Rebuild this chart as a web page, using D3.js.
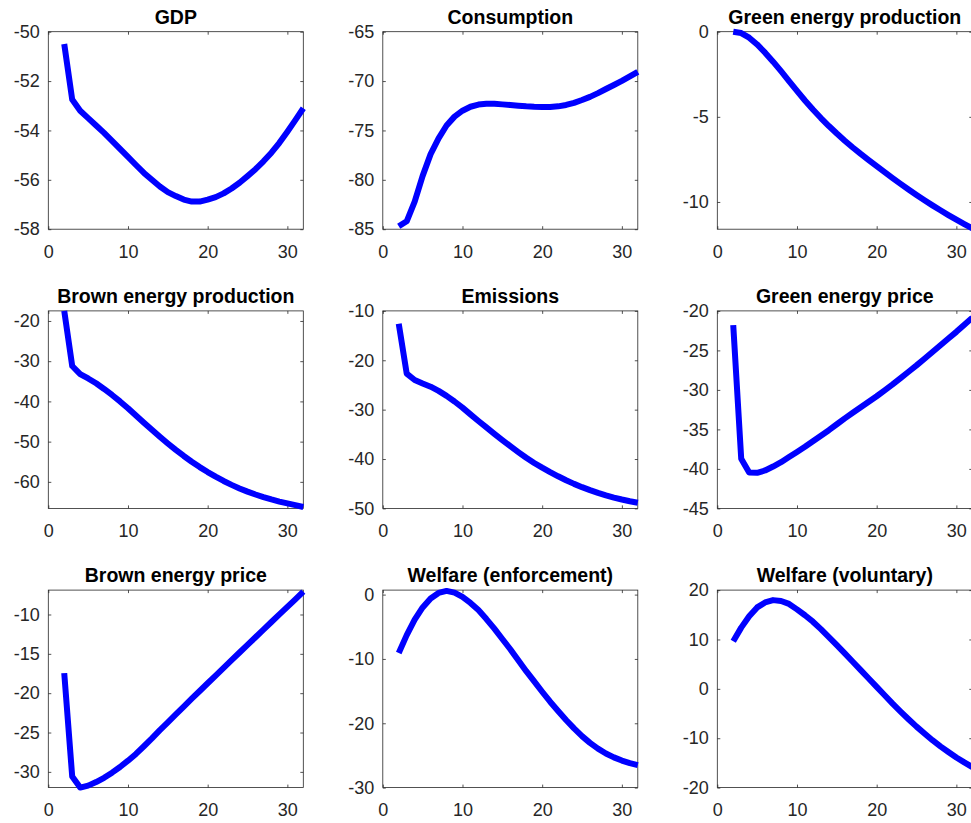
<!DOCTYPE html>
<html>
<head>
<meta charset="utf-8">
<script src="https://cdn.jsdelivr.net/npm/d3@7"></script>
<style>
  body { margin: 0; background: #ffffff; }
  svg { display: block; }
</style>
</head>
<body>
<svg id="chart" width="971" height="823"></svg>
<script>
// ---------- data ----------
const periods = [2,3,4,5,6,7,8,9,10,11,12,13,14,15,16,17,18,19,20,21,22,23,24,25,26,27,28,29,30,31,32];

const titles = [
  "GDP", "Consumption", "Green energy production",
  "Brown energy production", "Emissions", "Green energy price",
  "Brown energy price", "Welfare (enforcement)", "Welfare (voluntary)"
];

const gdp = [-50.5,-52.75,-53.2,-53.5,-53.8,-54.1,-54.42,-54.75,-55.07,-55.4,-55.72,-56.0,-56.27,-56.5,-56.66,-56.8,-56.88,-56.88,-56.8,-56.7,-56.55,-56.35,-56.12,-55.85,-55.57,-55.25,-54.9,-54.5,-54.05,-53.58,-53.1];

const consumption = [-84.7,-84.2,-82.2,-79.6,-77.4,-75.8,-74.5,-73.6,-73.0,-72.6,-72.38,-72.3,-72.3,-72.36,-72.43,-72.5,-72.56,-72.6,-72.62,-72.62,-72.56,-72.42,-72.2,-71.92,-71.6,-71.22,-70.8,-70.4,-69.98,-69.52,-69.06];

const greenProduction = [0.0,-0.08,-0.35,-0.75,-1.23,-1.76,-2.32,-2.9,-3.48,-4.04,-4.57,-5.07,-5.54,-5.98,-6.4,-6.8,-7.18,-7.54,-7.9,-8.25,-8.6,-8.94,-9.27,-9.59,-9.9,-10.2,-10.49,-10.77,-11.04,-11.3,-11.55];

const brownProduction = [-17.5,-31.2,-33.2,-34.3,-35.5,-36.9,-38.4,-40.0,-41.7,-43.5,-45.3,-47.05,-48.78,-50.45,-52.05,-53.57,-55.0,-56.33,-57.57,-58.72,-59.78,-60.75,-61.63,-62.43,-63.15,-63.8,-64.38,-64.9,-65.37,-65.8,-66.25];

const emissions = [-12.6,-22.7,-24.0,-24.7,-25.35,-26.2,-27.2,-28.35,-29.6,-30.95,-32.3,-33.6,-34.9,-36.15,-37.4,-38.6,-39.75,-40.8,-41.75,-42.65,-43.5,-44.3,-45.03,-45.7,-46.3,-46.85,-47.35,-47.8,-48.2,-48.55,-48.85];

const greenPrice = [-21.8,-38.7,-40.45,-40.5,-40.2,-39.7,-39.15,-38.5,-37.85,-37.2,-36.5,-35.8,-35.1,-34.35,-33.6,-32.9,-32.2,-31.5,-30.8,-30.05,-29.3,-28.5,-27.7,-26.9,-26.05,-25.2,-24.35,-23.5,-22.65,-21.75,-20.85];

const brownPrice = [-17.45,-30.6,-32.0,-31.75,-31.3,-30.75,-30.1,-29.38,-28.58,-27.72,-26.75,-25.75,-24.7,-23.7,-22.7,-21.7,-20.7,-19.72,-18.74,-17.76,-16.78,-15.8,-14.83,-13.86,-12.89,-11.92,-10.95,-9.99,-9.03,-8.07,-7.1];

const welfareEnforcement = [-9.07,-6.3,-3.9,-2.0,-0.6,0.26,0.57,0.3,-0.36,-1.3,-2.4,-3.8,-5.3,-6.9,-8.5,-10.2,-11.9,-13.5,-15.1,-16.65,-18.1,-19.5,-20.8,-22.0,-23.05,-23.95,-24.7,-25.3,-25.8,-26.2,-26.5];

const welfareVoluntary = [9.66,12.4,14.7,16.5,17.5,17.97,17.8,17.2,16.1,14.9,13.6,12.1,10.5,8.85,7.2,5.5,3.8,2.1,0.4,-1.3,-3.0,-4.6,-6.15,-7.65,-9.05,-10.4,-11.65,-12.8,-13.9,-14.9,-15.85];

const xDomain = [0, 32];
const xTickValues = [0, 10, 20, 30];

const yDomains = [
  [-58, -50], [-85, -65], [-11.6, 0],
  [-66.6, -17.5], [-50, -10], [-45, -20],
  [-32.0, -6.9], [-30, 0.7], [-20, 20]
];

const yTickValues = [
  [-58, -56, -54, -52, -50],
  [-85, -80, -75, -70, -65],
  [-10, -5, 0],
  [-60, -50, -40, -30, -20],
  [-50, -40, -30, -20, -10],
  [-45, -40, -35, -30, -25, -20],
  [-30, -25, -20, -15, -10],
  [-30, -20, -10, 0],
  [-20, -10, 0, 10, 20]
];

const seriesList = [gdp, consumption, greenProduction, brownProduction, emissions,
                    greenPrice, brownPrice, welfareEnforcement, welfareVoluntary];

// ---------- layout ----------
const panelW = 255, panelH = 197.5;
const colLeft = c => 48.3 + c * 334.5;
const rowTop = r => 31.7 + r * 279.2;
const axisColor = "#262626";
const fmt = d => String(d);   // plain hyphen-minus like the original

const svg = d3.select("#chart");
svg.append("rect").attr("width", 971).attr("height", 823).attr("fill", "#ffffff");

seriesList.forEach((values, i) => {
  const r = Math.floor(i / 3), c = i % 3;
  const g = svg.append("g").attr("transform", `translate(${colLeft(c)},${rowTop(r)})`);

  const x = d3.scaleLinear().domain(xDomain).range([0, panelW]);
  const y = d3.scaleLinear().domain(yDomains[i]).range([panelH, 0]);

  const styleAxis = sel => {
    sel.select(".domain").remove();
    sel.selectAll(".tick line").attr("stroke", axisColor).attr("stroke-width", 0.8);
    sel.selectAll(".tick text")
      .attr("fill", axisColor)
      .style("font-family", "'Liberation Sans', Arial, Helvetica, sans-serif")
      .style("font-size", "18px");
  };

  g.append("g").attr("transform", `translate(0,${panelH})`)
    .call(d3.axisBottom(x).tickValues(xTickValues).tickSizeInner(-3).tickSizeOuter(0).tickPadding(16).tickFormat(fmt))
    .call(styleAxis);
  g.append("g")
    .call(d3.axisTop(x).tickValues(xTickValues).tickSizeInner(-3).tickSizeOuter(0).tickFormat(""))
    .call(styleAxis);
  g.append("g")
    .call(d3.axisLeft(y).tickValues(yTickValues[i]).tickSizeInner(-3).tickSizeOuter(0).tickPadding(8.5).tickFormat(fmt))
    .call(styleAxis);
  g.append("g").attr("transform", `translate(${panelW},0)`)
    .call(d3.axisRight(y).tickValues(yTickValues[i]).tickSizeInner(-3).tickSizeOuter(0).tickFormat(""))
    .call(styleAxis);

  g.append("rect")
    .attr("x", 0).attr("y", 0).attr("width", panelW).attr("height", panelH)
    .attr("fill", "none").attr("stroke", axisColor).attr("stroke-width", 0.8);

  const line = d3.line().x((d, j) => x(periods[j])).y(d => y(d));
  g.append("path")
    .datum(values)
    .attr("d", line)
    .attr("fill", "none")
    .attr("stroke", "#0000ff")
    .attr("stroke-width", 6)
    .attr("stroke-linejoin", "round")
    .attr("stroke-linecap", "butt");

  g.append("text")
    .attr("x", panelW / 2).attr("y", -7.7)
    .attr("text-anchor", "middle")
    .style("font-family", "'Liberation Sans', Arial, Helvetica, sans-serif")
    .style("font-weight", "bold")
    .style("font-size", "19.5px")
    .attr("fill", "#000000")
    .text(titles[i]);
});
</script>
</body>
</html>
